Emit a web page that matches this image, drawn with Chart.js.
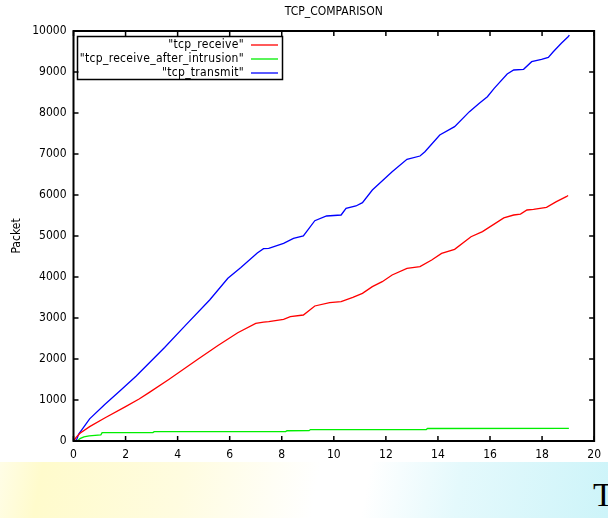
<!DOCTYPE html>
<html>
<head>
<meta charset="utf-8">
<title>TCP_COMPARISON</title>
<script src="https://cdn.jsdelivr.net/npm/chart.js@4/dist/chart.umd.min.js"></script>
<style>
  html, body { margin: 0; padding: 0; background: #fff; }
  #wrap { position: relative; width: 608px; height: 518px; overflow: hidden; }
  #plot { position: absolute; left: 0; top: 0; width: 608px; height: 462px; background: #fff; }
  #band {
    position: absolute; left: 0; top: 462px; width: 608px; height: 56px;
    background: linear-gradient(100deg, #fffde6 0%, #fffbcc 7%, #fffce0 30%, #ffffff 52%, #ffffff 60%, #e4f9fc 75%, #cdf4f9 100%);
  }
  #band span {
    position: absolute; left: 593px; top: 14px;
    font-family: 'Liberation Serif', 'DejaVu Serif', serif; font-size: 34px; color: #000;
  }
</style>
</head>
<body>
<div id="wrap">
  <div id="plot"><canvas id="chart"></canvas></div>
  <div id="band"><span>T</span></div>
</div>
<script>
// Time (s) and cumulative packet counts for each trace
const receiveTime = [0, 0.1, 0.25, 0.62, 1.2, 2.0, 2.52, 2.9, 3.66, 4.79, 5.55, 6.31, 7.0, 7.3, 7.5, 8.07, 8.33, 8.83, 9.27, 9.84, 10.28, 10.73, 11.1, 11.48, 11.86, 12.24, 12.81, 13.31, 13.76, 14.14, 14.64, 15.27, 15.71, 16.53, 16.91, 17.17, 17.42, 17.67, 18.17, 18.55, 18.93, 19.0];
const receivePackets = [0, 90, 188, 350, 560, 840, 1024, 1179, 1500, 2000, 2330, 2640, 2870, 2900, 2910, 2968, 3032, 3073, 3293, 3373, 3398, 3505, 3602, 3764, 3886, 4049, 4211, 4252, 4415, 4577, 4675, 4983, 5106, 5440, 5512, 5536, 5634, 5650, 5699, 5837, 5959, 5990];

const intrusionTime = [0, 0.15, 0.25, 0.4, 0.6, 1.05, 1.1, 3.05, 3.1, 8.15, 8.2, 9.05, 9.1, 13.55, 13.6, 19.03];
const intrusionPackets = [0, 0, 60, 100, 125, 150, 205, 205, 228, 228, 250, 252, 278, 280, 305, 308];

const transmitTime = [0, 0.12, 0.2, 0.31, 0.62, 1.2, 1.8, 2.4, 3.5, 4.3, 5.23, 5.93, 6.43, 7.06, 7.3, 7.5, 8.07, 8.45, 8.83, 9.27, 9.72, 10.28, 10.47, 10.85, 11.1, 11.48, 12.24, 12.81, 13.31, 13.5, 14.07, 14.64, 15.21, 15.59, 15.9, 16.16, 16.66, 16.91, 17.29, 17.6, 17.98, 18.24, 18.43, 18.74, 19.0, 19.05];
const transmitPackets = [0, 30, 170, 268, 540, 890, 1230, 1580, 2280, 2820, 3439, 3968, 4230, 4585, 4690, 4700, 4821, 4943, 5000, 5374, 5488, 5512, 5675, 5732, 5813, 6122, 6569, 6870, 6951, 7057, 7463, 7667, 8033, 8236, 8398, 8602, 8951, 9049, 9065, 9251, 9310, 9358, 9495, 9700, 9861, 9900];

// Axis ranges and tick spacing
const xRange = [0, 20];
const xStep = 2;
const yRange = [0, 10000];
const yStep = 1000;

const FONT = "'Liberation Sans Narrow', 'DejaVu Sans Condensed', 'Liberation Sans', sans-serif";
const TICK = 5;

function zip(xs, ys) { return xs.map((v, i) => ({ x: v, y: ys[i] })); }

// Frame, mirrored inward ticks, title and boxed key in the gnuplot manner
const gnuplotFrame = {
  id: 'gnuplotFrame',
  afterDatasetsDraw(chart) {
    const { ctx, chartArea: a, scales: { x, y } } = chart;
    ctx.save();
    ctx.strokeStyle = '#000';
    ctx.lineWidth = 1.5;
    ctx.beginPath();
    x.ticks.forEach(t => {
      const px = x.getPixelForValue(t.value);
      ctx.moveTo(px, a.bottom); ctx.lineTo(px, a.bottom - TICK);
      ctx.moveTo(px, a.top); ctx.lineTo(px, a.top + TICK);
    });
    y.ticks.forEach(t => {
      const py = y.getPixelForValue(t.value);
      ctx.moveTo(a.left, py); ctx.lineTo(a.left + TICK, py);
      ctx.moveTo(a.right, py); ctx.lineTo(a.right - TICK, py);
    });
    ctx.stroke();
    ctx.lineWidth = 2;
    ctx.strokeRect(a.left, a.top, a.right - a.left, a.bottom - a.top);

    // title
    ctx.fillStyle = '#000';
    ctx.font = '12px ' + FONT;
    ctx.textAlign = 'center';
    ctx.textBaseline = 'middle';
    ctx.fillText('TCP_COMPARISON', (a.left + a.right) / 2, 12);

    // key
    const kx0 = a.left + 4, ky0 = a.top + 5.5, kx1 = a.left + 209, ky1 = a.top + 48.5;
    ctx.lineWidth = 1.5;
    ctx.strokeRect(kx0, ky0, kx1 - kx0, ky1 - ky0);
    ctx.textAlign = 'right';
    ctx.letterSpacing = '0.3px';
    chart.data.datasets.forEach((ds, i) => {
      const ry = a.top + 14 + i * 14;
      ctx.fillStyle = '#000';
      ctx.fillText('"' + ds.label + '"', a.left + 170.5, ry);
      ctx.strokeStyle = ds.borderColor;
      ctx.lineWidth = 1.3;
      ctx.beginPath();
      ctx.moveTo(a.left + 177.5, ry);
      ctx.lineTo(a.left + 204.5, ry);
      ctx.stroke();
    });
    ctx.restore();
  }
};

new Chart(document.getElementById('chart'), {
  type: 'line',
  data: {
    datasets: [
      { label: 'tcp_receive', data: zip(receiveTime, receivePackets), borderColor: '#ff0000' },
      { label: 'tcp_receive_after_intrusion', data: zip(intrusionTime, intrusionPackets), borderColor: '#00ee00' },
      { label: 'tcp_transmit', data: zip(transmitTime, transmitPackets), borderColor: '#0000ff' }
    ]
  },
  options: {
    responsive: true,
    maintainAspectRatio: false,
    animation: false,
    layout: { padding: { top: 31, right: 7, left: 0, bottom: 0 } },
    elements: {
      point: { radius: 0 },
      line: { borderWidth: 1.3, tension: 0 }
    },
    plugins: {
      legend: { display: false },
      title: { display: false },
      tooltip: { enabled: false }
    },
    scales: {
      x: {
        type: 'linear', min: xRange[0], max: xRange[1],
        grid: { display: false, drawTicks: false }, border: { display: false },
        ticks: { stepSize: xStep, color: '#000', padding: 7, maxRotation: 0, font: { family: FONT, size: 12 } },
        afterFit(s) { s.height = 21; }
      },
      y: {
        type: 'linear', min: yRange[0], max: yRange[1],
        grid: { display: false, drawTicks: false }, border: { display: false },
        ticks: { stepSize: yStep, color: '#000', padding: 7, font: { family: FONT, size: 12 }, callback: v => String(v) },
        title: { display: true, text: 'Packet', color: '#000', font: { family: FONT, size: 12 }, padding: { top: 10, bottom: 0 } },
        afterFit(s) { s.width = 73.5; }
      }
    }
  },
  plugins: [gnuplotFrame]
});
</script>
</body>
</html>
